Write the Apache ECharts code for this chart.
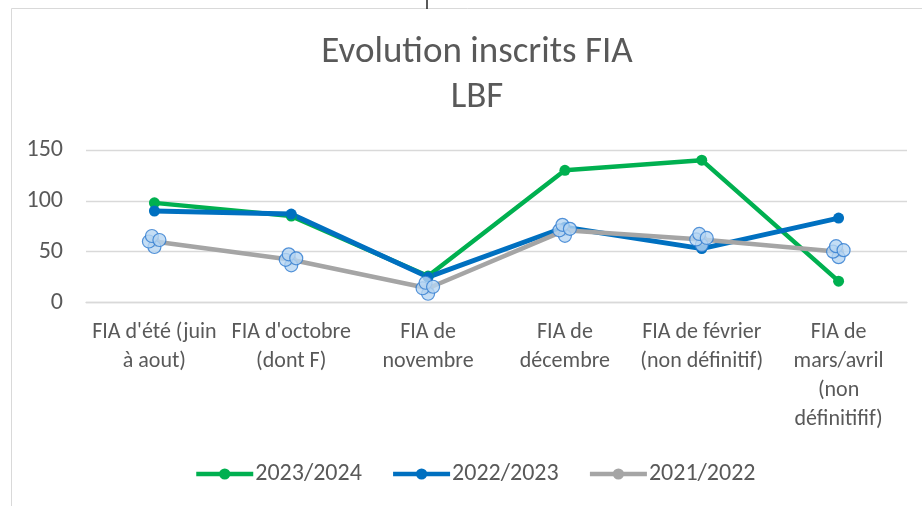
<!DOCTYPE html>
<html>
<head>
<meta charset="utf-8">
<script src="https://cdn.jsdelivr.net/npm/echarts@6/dist/echarts.min.js"></script>
<style>
html,body{margin:0;padding:0;background:#fff;}
#chart{width:922px;height:506px;}
</style>
</head>
<body>
<div id="chart"></div>
<script>
var categories = ["FIA d'été (juin à aout)", "FIA d'octobre (dont F)", "FIA de novembre", "FIA de décembre", "FIA de février (non définitif)", "FIA de mars/avril (non définitifif)"];
var tickLabels = ["FIA d'été (juin\nà aout)", "FIA d'octobre\n(dont F)", "FIA de\nnovembre", "FIA de\ndécembre", "FIA de février\n(non définitif)", "FIA de\nmars/avril\n(non\ndéfinitifif)"];
var seriesNames = ["2023/2024", "2022/2023", "2021/2022"];
var values2324 = [98, 85, 26, 130, 140, 21];
var values2223 = [90, 87, 25, 74, 53, 83];
var values2122 = [60, 42, 14, 71, 62, 50];
var yTicks = [0, 50, 100, 150];

var FONT = 'Carlito, "Liberation Sans", Arial, sans-serif';
var TEXT = '#595959';
var CLOVER_FILL = '#B7D6F2';
var CLOVER_EDGE = '#2E7BD0';

// selection-handle look of the 2021/2022 markers: four overlapping circles
function cloverLayer(offset) {
  return {
    type: 'scatter', data: values2122, symbol: 'circle', symbolSize: 13,
    symbolOffset: offset, z: 5, silent: true, legendHoverLink: false,
    itemStyle: {color: CLOVER_FILL, borderColor: CLOVER_EDGE, borderWidth: 1.2}
  };
}

var chart = echarts.init(document.getElementById('chart'), null, {renderer: 'canvas'});
chart.setOption({
  animation: false,
  backgroundColor: '#ffffff',
  textStyle: {fontFamily: FONT},
  title: {
    text: 'Evolution inscrits FIA\nLBF',
    left: 472,
    top: 25,
    textAlign: 'center',
    textStyle: {fontFamily: FONT, fontSize: 37, fontWeight: 'normal', color: TEXT, lineHeight: 45}
  },
  graphic: [
    {type: 'rect', silent: true, shape: {x: 11.5, y: 8.5, width: 1000, height: 600},
     style: {fill: 'none', stroke: '#D9D9D9', lineWidth: 1}},
    {type: 'line', silent: true, shape: {x1: 427, y1: 0, x2: 427, y2: 9},
     style: {stroke: '#222', lineWidth: 1.5}}
  ],
  legend: {
    left: 189,
    top: 457,
    itemWidth: 57,
    itemHeight: 14,
    itemGap: 29,
    data: seriesNames,
    lineStyle: {width: 4.5},
    textStyle: {fontFamily: FONT, fontSize: 24, color: TEXT, padding: [0, 0, 0, -3]}
  },
  grid: {left: 86, right: 15, top: 150, bottom: 203.5},
  xAxis: {
    type: 'category',
    data: categories,
    boundaryGap: true,
    axisLine: {lineStyle: {color: '#D9D9D9', width: 1.3}},
    axisTick: {show: false},
    axisLabel: {
      interval: 0,
      margin: 15,
      fontFamily: FONT,
      fontSize: 22,
      lineHeight: 29,
      color: TEXT,
      formatter: function (v, i) { return tickLabels[i]; }
    }
  },
  yAxis: {
    type: 'value',
    min: yTicks[0],
    max: yTicks[yTicks.length - 1],
    interval: 50,
    axisLine: {show: false},
    axisTick: {show: false},
    splitLine: {lineStyle: {color: '#D9D9D9', width: 1.3}},
    axisLabel: {margin: 23, fontFamily: FONT, fontSize: 24, color: TEXT}
  },
  series: [
    {
      name: seriesNames[0], type: 'line', data: values2324,
      symbol: 'circle', symbolSize: 11, showAllSymbol: true,
      lineStyle: {color: '#00B050', width: 4.5},
      itemStyle: {color: '#00B050'}
    },
    {
      name: seriesNames[1], type: 'line', data: values2223,
      symbol: 'circle', symbolSize: 11, showAllSymbol: true,
      lineStyle: {color: '#0070C0', width: 5},
      itemStyle: {color: '#0070C0'}
    },
    {
      name: seriesNames[2], type: 'line', data: values2122,
      symbol: 'circle', symbolSize: 11, showSymbol: true,
      lineStyle: {color: '#A5A5A5', width: 4.5},
      itemStyle: {color: '#A5A5A5'}
    },
    cloverLayer([0, 5.5]),
    cloverLayer([-5.5, 0]),
    cloverLayer([-2.5, -5.5]),
    cloverLayer([5, -1.5])
  ]
});
</script>
</body>
</html>
